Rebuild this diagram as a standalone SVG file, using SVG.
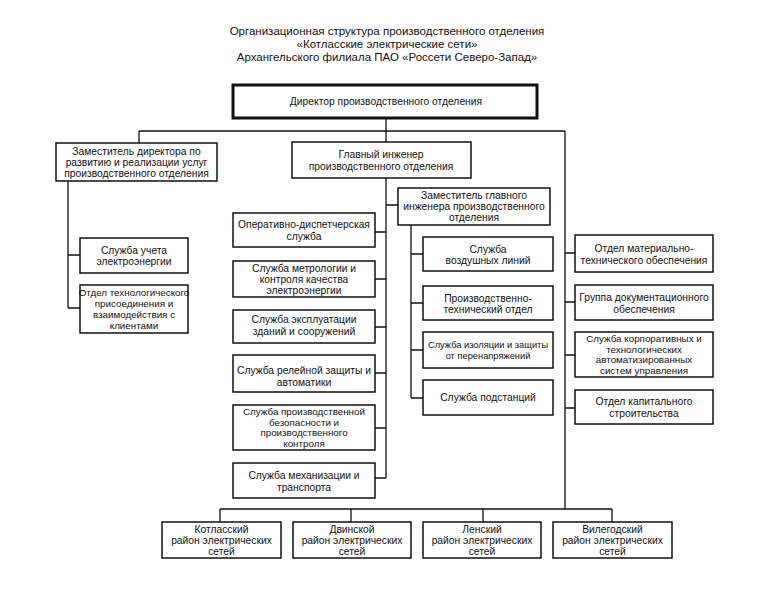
<svg xmlns="http://www.w3.org/2000/svg" width="776" height="614" viewBox="0 0 776 614">
<style>
.bg{fill:#ffffff}
.box{fill:#ffffff;stroke:#111;stroke-width:1.5}
.main{fill:#ffffff;stroke:#111;stroke-width:3}
.ln{fill:none;stroke:#111;stroke-width:1.3}
text{font-family:"Liberation Sans",Arial,sans-serif;font-size:10.3px;fill:#111;text-anchor:middle}
.title{font-size:11.5px}
.sm{font-size:9.3px}
.t4{font-size:9.8px}
</style>
<rect class="bg" x="0" y="0" width="776" height="614"/>
<g id="title">
<text class="title" x="387" y="35">Организационная структура производственного отделения</text>
<text class="title" x="387" y="48">«Котласские электрические сети»</text>
<text class="title" x="387" y="61">Архангельского филиала ПАО «Россети Северо-Запад»</text>
</g>
<g id="connectors">
<path class="ln" d="M386 118V142M139 131H565M139 131V143M565 131V509"/>
<path class="ln" d="M386 178V478M386 205H398"/>
<path class="ln" d="M375 232H386M375 279H386M375 327H386M375 373H386M375 428H386M375 478H386"/>
<path class="ln" d="M68 181V308M68 255H80M68 308H80"/>
<path class="ln" d="M411 225V398M411 254H423M411 303H423M411 350H423M411 398H423"/>
<path class="ln" d="M565 253H575M565 302H575M565 355H575M565 408H575"/>
<path class="ln" d="M220 509H612M220 509V522M351 509V522M483 509V522M612 509V522"/>
</g>
<g id="director">
<rect class="main" x="233" y="85" width="304" height="33"/>
<text x="386" y="105">Директор производственного отделения</text>
</g>
<g id="deputy-director">
<rect class="box" x="56" y="143" width="161" height="38"/>
<text x="136.5" y="154.5">Заместитель директора по</text>
<text x="136.5" y="165.5">развитию и реализации услуг</text>
<text x="136.5" y="176.5">производственного отделения</text>
</g>
<g id="chief-engineer">
<rect class="box" x="292" y="142" width="179" height="36"/>
<text x="381" y="158">Главный инженер</text>
<text x="381" y="169.5">производственного отделения</text>
</g>
<g id="deputy-chief-engineer">
<rect class="box" x="398" y="188" width="152" height="37"/>
<text x="474" y="199">Заместитель главного</text>
<text x="474" y="210">инженера производственного</text>
<text x="474" y="221">отделения</text>
</g>
<g id="metering">
<rect class="box" x="80" y="238" width="108" height="35"/>
<text x="134" y="253.5">Служба учета</text>
<text x="134" y="265">электроэнергии</text>
</g>
<g id="tech-connection">
<rect class="box" x="80" y="285" width="108" height="48"/>
<text class="t4" x="134" y="296">Отдел технологического</text>
<text class="t4" x="134" y="307">присоединения и</text>
<text class="t4" x="134" y="318">взаимодействия с</text>
<text class="t4" x="134" y="329">клиентами</text>
</g>
<g id="dispatch">
<rect class="box" x="233" y="213" width="142" height="34"/>
<text x="304" y="228">Оперативно-диспетчерская</text>
<text x="304" y="239.5">служба</text>
</g>
<g id="metrology">
<rect class="box" x="233" y="261" width="142" height="36"/>
<text x="304" y="271.5">Служба метрологии и</text>
<text x="304" y="282.5">контроля качества</text>
<text x="304" y="293.5">электроэнергии</text>
</g>
<g id="buildings">
<rect class="box" x="233" y="310" width="142" height="33"/>
<text x="304" y="322.5">Служба эксплуатации</text>
<text x="304" y="335">зданий и сооружений</text>
</g>
<g id="relay">
<rect class="box" x="233" y="355" width="142" height="37"/>
<text x="304" y="374">Служба релейной защиты и</text>
<text x="304" y="386">автоматики</text>
</g>
<g id="safety">
<rect class="box" x="233" y="405" width="142" height="45"/>
<text class="t4" x="304" y="415">Служба производственной</text>
<text class="t4" x="304" y="425.5">безопасности и</text>
<text class="t4" x="304" y="436">производственного</text>
<text class="t4" x="304" y="446.5">контроля</text>
</g>
<g id="transport">
<rect class="box" x="233" y="463" width="142" height="35"/>
<text x="304" y="479">Служба механизации и</text>
<text x="304" y="490.5">транспорта</text>
</g>
<g id="overhead-lines">
<rect class="box" x="423" y="237" width="130" height="34"/>
<text x="488" y="252.5">Служба</text>
<text x="488" y="264">воздушных линий</text>
</g>
<g id="pto">
<rect class="box" x="423" y="286" width="130" height="34"/>
<text x="488" y="301.5">Производственно-</text>
<text x="488" y="313">технический отдел</text>
</g>
<g id="insulation">
<rect class="box" x="423" y="332" width="130" height="36"/>
<text class="sm" x="488" y="347.5">Служба изоляции и защиты</text>
<text class="sm" x="488" y="358.5">от перенапряжений</text>
</g>
<g id="substations">
<rect class="box" x="423" y="380" width="130" height="35"/>
<text x="488" y="401">Служба подстанций</text>
</g>
<g id="logistics">
<rect class="box" x="575" y="235" width="138" height="37"/>
<text x="644" y="252">Отдел материально-</text>
<text x="644" y="263.5">технического обеспечения</text>
</g>
<g id="documentation">
<rect class="box" x="575" y="285" width="138" height="35"/>
<text x="644" y="301">Группа документационного</text>
<text x="644" y="312.5">обеспечения</text>
</g>
<g id="it-systems">
<rect class="box" x="575" y="332" width="138" height="45"/>
<text class="t4" x="644" y="342">Служба корпоративных и</text>
<text class="t4" x="644" y="352.5">технологических</text>
<text class="t4" x="644" y="363">автоматизированных</text>
<text class="t4" x="644" y="373.5">систем управления</text>
</g>
<g id="construction">
<rect class="box" x="575" y="390" width="138" height="34"/>
<text x="644" y="405">Отдел капитального</text>
<text x="644" y="416.5">строительства</text>
</g>
<g id="kotlas">
<rect class="box" x="162" y="522" width="119" height="36"/>
<text x="221.5" y="532.5">Котласский</text>
<text x="221.5" y="543.5">район электрических</text>
<text x="221.5" y="554.5">сетей</text>
</g>
<g id="dvinskoy">
<rect class="box" x="293" y="522" width="118" height="36"/>
<text x="352" y="532.5">Двинской</text>
<text x="352" y="543.5">район электрических</text>
<text x="352" y="554.5">сетей</text>
</g>
<g id="lensky">
<rect class="box" x="423" y="522" width="118" height="36"/>
<text x="482" y="532.5">Ленский</text>
<text x="482" y="543.5">район электрических</text>
<text x="482" y="554.5">сетей</text>
</g>
<g id="vilegodsky">
<rect class="box" x="553" y="522" width="119" height="36"/>
<text x="612.5" y="532.5">Вилегодский</text>
<text x="612.5" y="543.5">район электрических</text>
<text x="612.5" y="554.5">сетей</text>
</g>
</svg>
